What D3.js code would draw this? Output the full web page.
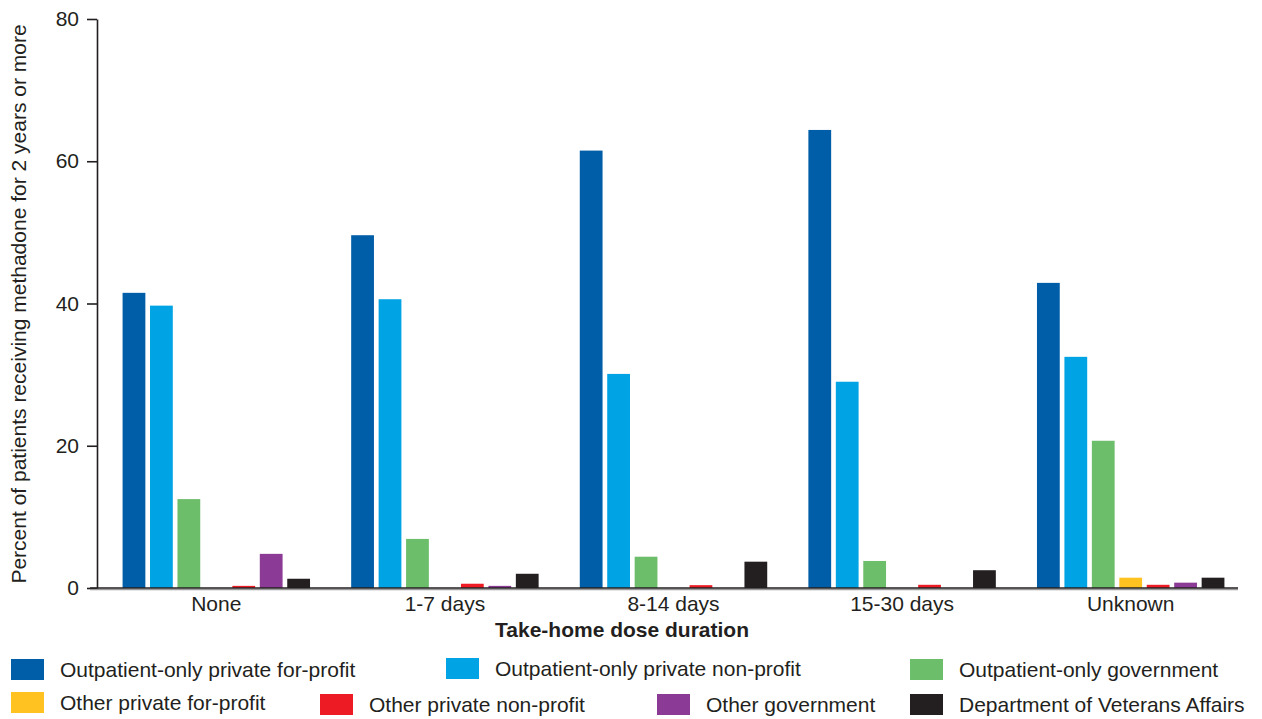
<!DOCTYPE html>
<html>
<head>
<meta charset="utf-8">
<script src="https://cdn.jsdelivr.net/npm/d3@7"></script>
<style>
  html, body { margin: 0; padding: 0; background: #fff; }
  svg { display: block; font-family: "Liberation Sans", Arial, Helvetica, sans-serif; }
</style>
</head>
<body>
<svg id="chart" width="1262" height="719"></svg>
<script>
const categories = ["None", "1-7 days", "8-14 days", "15-30 days", "Unknown"];
const seriesNames = [
  "Outpatient-only private for-profit",
  "Outpatient-only private non-profit",
  "Outpatient-only government",
  "Other private for-profit",
  "Other private non-profit",
  "Other government",
  "Department of Veterans Affairs"
];
const seriesColors = ["#005EA8", "#00A3E3", "#6DBE6B", "#FFC220", "#ED1C24", "#8B3A96", "#231F20"];
// values per series, in category order
const opPrivateForProfit = [41.5, 49.6, 61.5, 64.4, 42.9];
const opPrivateNonProfit = [39.7, 40.6, 30.1, 29.0, 32.5];
const opGovernment       = [12.5, 6.9, 4.4, 3.8, 20.7];
const otherPrivateForProfit = [0, 0, 0, 0, 1.45];
const otherPrivateNonProfit = [0.3, 0.6, 0.4, 0.45, 0.45];
const otherGovernment    = [4.8, 0.3, 0, 0, 0.75];
const veteransAffairs    = [1.3, 2.0, 3.7, 2.5, 1.45];
const yTicks = [0, 20, 40, 60, 80];

const seriesValues = [opPrivateForProfit, opPrivateNonProfit, opGovernment,
  otherPrivateForProfit, otherPrivateNonProfit, otherGovernment, veteransAffairs];

const svg = d3.select("#chart");
const textColor = "#231F20";
const fontSize = 21;

const x0 = d3.scaleBand().domain(categories).range([102, 1245]).paddingInner(0.18).paddingOuter(0.09);
const x1 = d3.scaleBand().domain(d3.range(seriesNames.length)).range([0, x0.bandwidth()]).paddingInner(0.17).paddingOuter(0);
const y = d3.scaleLinear().domain([0, 80]).range([588, 19]);

// bars
const groups = svg.append("g").selectAll("g").data(categories).join("g")
  .attr("transform", d => `translate(${x0(d)},0)`);
groups.selectAll("rect")
  .data((c, ci) => seriesValues.map((vals, si) => ({ si, v: vals[ci] })))
  .join("rect")
  .attr("x", d => x1(d.si))
  .attr("width", x1.bandwidth())
  .attr("y", d => y(d.v))
  .attr("height", d => y(0) - y(d.v))
  .attr("fill", d => seriesColors[d.si]);

// y axis
const yAxis = d3.axisLeft(y).tickValues(yTicks).tickSize(10).tickPadding(8).tickSizeOuter(0);
const gy = svg.append("g").attr("transform", "translate(97,0)").call(yAxis);
gy.select(".domain").attr("stroke", textColor).attr("stroke-width", 1.6);
gy.selectAll(".tick line").attr("stroke", textColor).attr("stroke-width", 1.6);
gy.selectAll(".tick text").attr("fill", textColor).attr("font-size", fontSize)
  .attr("font-family", "Liberation Sans, Arial, sans-serif");

// x axis
const xAxis = d3.axisBottom(x0).tickSize(0).tickPadding(8);
const gx = svg.append("g").attr("transform", "translate(0,588)").call(xAxis);
gx.select(".domain").remove();
gx.selectAll(".tick text").attr("fill", textColor).attr("font-size", fontSize)
  .attr("font-family", "Liberation Sans, Arial, sans-serif");
svg.append("line").attr("x1", 90).attr("x2", 1238).attr("y1", 589.5).attr("y2", 589.5)
  .attr("stroke", "#9a9a9a").attr("stroke-width", 1.5);
svg.append("line").attr("x1", 90).attr("x2", 1238).attr("y1", 588).attr("y2", 588)
  .attr("stroke", textColor).attr("stroke-width", 1.6);

// axis titles
svg.append("text").attr("x", 622).attr("y", 637).attr("text-anchor", "middle")
  .attr("font-weight", "bold").attr("font-size", fontSize).attr("fill", textColor)
  .text("Take-home dose duration");
svg.append("text").attr("transform", "translate(26,304) rotate(-90)").attr("text-anchor", "middle")
  .attr("font-size", fontSize).attr("fill", textColor)
  .text("Percent of patients receiving methadone for 2 years or more");

// legend
const legendPos = [
  [11, 659], [446, 658], [910, 659],
  [11, 692], [320, 694], [657, 694], [910, 694]
];
const leg = svg.append("g").selectAll("g").data(seriesNames).join("g")
  .attr("transform", (d, i) => `translate(${legendPos[i][0]},${legendPos[i][1]})`);
leg.append("rect").attr("width", 33).attr("height", 21).attr("fill", (d, i) => seriesColors[i]);
leg.append("text").attr("x", 49).attr("y", 18).attr("font-size", fontSize).attr("fill", textColor).text(d => d);
</script>
</body>
</html>
